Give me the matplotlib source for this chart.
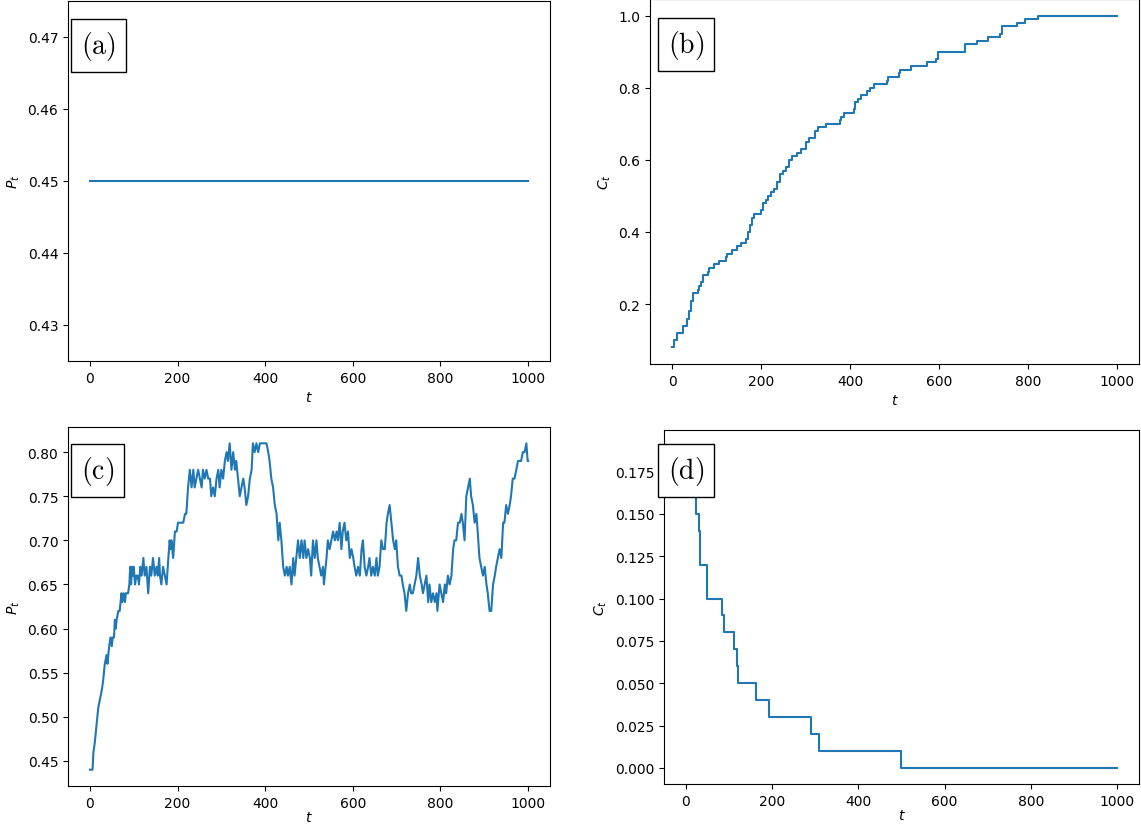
import matplotlib
matplotlib.use("Agg")
import matplotlib.pyplot as plt
import numpy as np

# ---- data ----
t_a = [0, 1000]
p_a = [0.45, 0.45]

t_b = [0, 5, 10, 24, 34, 38, 42, 46, 57, 60, 65, 69, 80, 83, 94, 106, 121, 123,
       135, 146, 155, 166, 170, 175, 180, 184, 200, 205, 210, 215, 222, 230, 236,
       243, 250, 256, 262, 270, 280, 289, 300, 307, 322, 327, 345, 377, 380, 386,
       408, 412, 418, 424, 439, 446, 453, 484, 486, 511, 513, 536, 573, 594, 597,
       659, 685, 711, 738, 742, 775, 794, 823, 1000]
c_b = [0.08, 0.10, 0.12, 0.14, 0.16, 0.18, 0.21, 0.23, 0.24, 0.25, 0.26, 0.28, 0.29,
       0.30, 0.31, 0.32, 0.33, 0.34, 0.35, 0.36, 0.37, 0.38, 0.40, 0.42, 0.44, 0.45,
       0.46, 0.48, 0.49, 0.50, 0.51, 0.52, 0.54, 0.56, 0.57, 0.58, 0.60, 0.61, 0.62,
       0.63, 0.65, 0.66, 0.68, 0.69, 0.70, 0.71, 0.72, 0.73, 0.74, 0.76, 0.77, 0.78,
       0.79, 0.80, 0.81, 0.82, 0.83, 0.84, 0.85, 0.86, 0.87, 0.88, 0.90, 0.92, 0.93,
       0.94, 0.95, 0.97, 0.98, 0.99, 1.00, 1.00]

t_c = [0, 6, 8, 11, 15, 19, 23, 27, 30, 34, 38, 40, 42, 44, 47, 50, 52, 55, 57, 59,
       61, 65, 68, 70, 72, 74, 77, 80, 82, 87, 90, 92, 94, 96, 98, 100, 103, 106, 109,
       112, 115, 118, 122, 125, 129, 133, 137, 140, 144, 148, 152, 155, 158, 160, 163,
       167, 171, 175, 179, 182, 184, 186, 190, 194, 198, 201, 207, 213, 217, 220, 224,
       228, 232, 236, 239, 243, 247, 251, 255, 258, 262, 266, 270, 274, 277, 281, 285,
       289, 293, 296, 300, 304, 308, 312, 315, 319, 323, 327, 331, 334, 338, 342, 346,
       350, 353, 357, 361, 365, 369, 372, 376, 380, 384, 388, 396, 403, 407, 410, 414,
       418, 422, 426, 430, 433, 437, 441, 445, 449, 452, 456, 460, 464, 467, 471, 475,
       479, 483, 487, 490, 494, 498, 502, 505, 509, 513, 517, 520, 524, 528, 532, 534,
       540, 543, 547, 551, 555, 559, 563, 566, 570, 574, 577, 581, 585, 589, 593, 597,
       601, 604, 608, 612, 616, 620, 623, 627, 631, 635, 638, 642, 646, 650, 654, 657,
       661, 665, 669, 673, 677, 680, 684, 688, 692, 696, 699, 703, 707, 711, 714, 718,
       722, 726, 730, 733, 737, 741, 745, 749, 753, 757, 760, 764, 768, 772, 775, 779,
       783, 787, 791, 793, 798, 802, 806, 810, 813, 817, 821, 825, 829, 832, 836, 840,
       844, 848, 851, 855, 859, 863, 867, 870, 874, 878, 882, 885, 889, 893, 897, 901,
       905, 908, 912, 916, 920, 924, 927, 931, 935, 939, 943, 946, 950, 954, 958, 961,
       965, 969, 973, 977, 980, 984, 988, 992, 996, 999, 1000]
p_c = [0.44, 0.44, 0.46, 0.47, 0.49, 0.51, 0.52, 0.53, 0.54, 0.56, 0.57, 0.56, 0.57,
       0.58, 0.59, 0.58, 0.59, 0.59, 0.61, 0.60, 0.61, 0.62, 0.62, 0.63, 0.64, 0.63,
       0.64, 0.63, 0.64, 0.64, 0.65, 0.67, 0.65, 0.67, 0.66, 0.67, 0.65, 0.66, 0.66,
       0.65, 0.67, 0.66, 0.68, 0.66, 0.67, 0.64, 0.67, 0.66, 0.68, 0.66, 0.67, 0.66,
       0.68, 0.66, 0.65, 0.67, 0.66, 0.65, 0.68, 0.70, 0.69, 0.70, 0.68, 0.71, 0.71,
       0.72, 0.72, 0.72, 0.73, 0.73, 0.76, 0.78, 0.76, 0.78, 0.76, 0.77, 0.78, 0.77,
       0.76, 0.78, 0.77, 0.78, 0.77, 0.77, 0.75, 0.76, 0.75, 0.77, 0.78, 0.76, 0.78,
       0.77, 0.79, 0.80, 0.79, 0.81, 0.78, 0.80, 0.78, 0.79, 0.77, 0.75, 0.76, 0.77,
       0.76, 0.74, 0.75, 0.77, 0.78, 0.81, 0.80, 0.81, 0.80, 0.81, 0.81, 0.81, 0.80,
       0.79, 0.77, 0.76, 0.74, 0.73, 0.70, 0.72, 0.70, 0.67, 0.66, 0.67, 0.66, 0.67,
       0.65, 0.68, 0.66, 0.68, 0.70, 0.68, 0.70, 0.68, 0.70, 0.68, 0.69, 0.68, 0.66,
       0.70, 0.68, 0.70, 0.68, 0.67, 0.66, 0.67, 0.65, 0.68, 0.70, 0.69, 0.70, 0.71,
       0.70, 0.71, 0.70, 0.72, 0.69, 0.71, 0.72, 0.70, 0.71, 0.68, 0.69, 0.68, 0.67,
       0.66, 0.67, 0.66, 0.69, 0.70, 0.67, 0.66, 0.67, 0.68, 0.66, 0.67, 0.66, 0.68,
       0.66, 0.67, 0.70, 0.69, 0.69, 0.72, 0.73, 0.74, 0.72, 0.70, 0.69, 0.70, 0.67,
       0.66, 0.66, 0.65, 0.64, 0.62, 0.64, 0.65, 0.64, 0.64, 0.65, 0.66, 0.68, 0.66,
       0.65, 0.64, 0.65, 0.66, 0.63, 0.65, 0.63, 0.64, 0.63, 0.64, 0.62, 0.65, 0.64,
       0.63, 0.65, 0.64, 0.66, 0.65, 0.66, 0.69, 0.70, 0.70, 0.72, 0.72, 0.73, 0.72,
       0.70, 0.75, 0.76, 0.77, 0.75, 0.74, 0.72, 0.73, 0.71, 0.68, 0.67, 0.66, 0.67,
       0.65, 0.64, 0.62, 0.62, 0.65, 0.66, 0.67, 0.68, 0.69, 0.68, 0.72, 0.72, 0.74,
       0.73, 0.74, 0.75, 0.77, 0.77, 0.78, 0.79, 0.79, 0.79, 0.80, 0.80, 0.81, 0.79,
       0.79]

t_d = [0, 12, 18, 21, 23, 31, 34, 49, 85, 88, 112, 118, 122, 164, 194, 291, 308, 498, 1000]
c_d = [0.19, 0.18, 0.17, 0.16, 0.15, 0.14, 0.12, 0.10, 0.09, 0.08, 0.07, 0.06, 0.05,
       0.04, 0.03, 0.02, 0.01, 0.00, 0.00]

panel_labels = ["(a)", "(b)", "(c)", "(d)"]

# ---- figure ----
W, H = 1141, 828
fig = plt.figure(figsize=(W / 100, H / 100), dpi=100)

def ax_px(left, top, right, bottom):
    return fig.add_axes([left / W, 1 - bottom / H, (right - left) / W, (bottom - top) / H])

ax_a = ax_px(68, 2, 550, 362)
ax_b = ax_px(650, 0, 1139, 365)
ax_c = ax_px(68, 428, 550, 787)
ax_d = ax_px(664, 431, 1139, 785)

ax_a.plot(t_a, p_a, color="C0", lw=1.5)
ax_a.set_ylim(0.425, 0.475)
ax_a.set_yticks([0.43, 0.44, 0.45, 0.46, 0.47])
ax_a.set_xlabel("$t$")
ax_a.set_ylabel("$P_t$")

ax_b.plot(t_b, c_b, color="C0", lw=1.5, drawstyle="steps-post")
ax_b.set_xlabel("$t$")
ax_b.set_ylabel("$C_t$")

ax_c.plot(t_c, p_c, color="C0", lw=1.5)
ax_c.set_xlabel("$t$", labelpad=0)
ax_c.set_ylabel("$P_t$")

ax_d.plot(t_d, c_d, color="C0", lw=1.5, drawstyle="steps-post")
ax_d.set_xlabel("$t$", labelpad=0)
ax_d.set_ylabel("$C_t$")

for ax in (ax_a, ax_b, ax_c, ax_d):
    ax.set_xticks([0, 200, 400, 600, 800, 1000])

plt.rcParams["mathtext.fontset"] = "cm"
label_pos = [(81, 30), (668, 29), (81, 455), (668, 455)]
for lab, (x, y) in zip(panel_labels, label_pos):
    fig.text(x / W, 1 - y / H, r"$\mathrm{" + lab + "}$", fontsize=20,
             ha="left", va="top", math_fontfamily="cm",
             bbox=dict(boxstyle="square,pad=0.36", fc="white", ec="black", lw=1.0))

fig.savefig("out.png", dpi=100)
